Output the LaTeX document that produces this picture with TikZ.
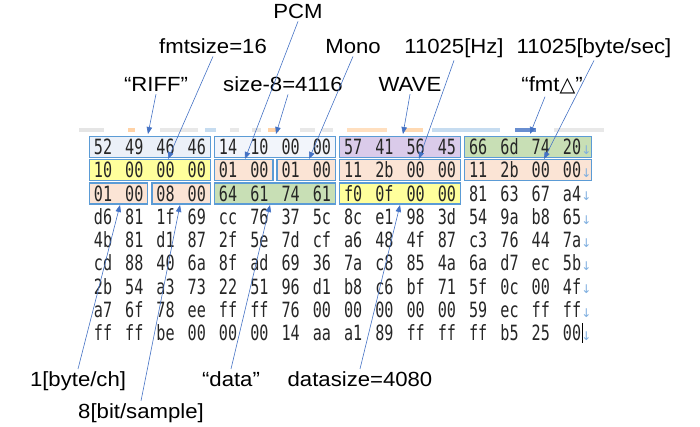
\documentclass[tikz,border=0pt]{standalone}
\usepackage{fontspec}
\setmainfont{Liberation Sans}[FakeStretch=1.08]
\newfontfamily\hexfont{DejaVu Sans Mono}[FakeStretch=0.72]
\newfontfamily\symfont{DejaVu Sans}
\usetikzlibrary{arrows.meta,calc}

\definecolor{boxline}{HTML}{5B9BD5}
\definecolor{arrowblue}{HTML}{4472C4}
\definecolor{fillgray}{HTML}{EBF0F8}
\definecolor{fillpale}{HTML}{F2F5FB}
\definecolor{fillpurple}{HTML}{DACBEA}
\definecolor{fillgreen}{HTML}{C8DFB5}
\definecolor{fillyellow}{HTML}{FFFF9C}
\definecolor{fillpeach}{HTML}{FBE4D5}
\definecolor{eolblue}{HTML}{7EAEDF}

\tikzset{
  hexframe/.style={draw=boxline,line width=1.4pt},
  hexbyte/.style={font=\hexfont\fontsize{21}{21}\selectfont,inner sep=0pt,anchor=base,text=black!85},
  eolmark/.style={font=\symfont\fontsize{12}{12}\selectfont,inner sep=0pt,text=eolblue},
  caption/.style={font=\fontsize{20.5}{20.5}\selectfont,inner sep=2pt,anchor=base},
  pointer/.style={draw=arrowblue,line width=0.6pt,-{Triangle[length=7pt,width=5.5pt]}}
}

% row, first column, last column, fill, extra width on the right
\newcommand{\bytegroup}[5]{%
  \draw[hexframe,fill=#4] ({103+31.27*#2-13.5},{147+23.25*#1-10.5})
    rectangle ({103+31.27*#3+13.5+#5},{147+23.25*#1+10.5});}

\begin{document}
\begin{tikzpicture}[x=1pt,y=-1pt]
  \useasboundingbox (0,0) rectangle (700,427);

  % toolbar remains
  \foreach \xa/\xb/\col in {79/104/gray!20,128/135/orange!35,160/198/gray!18,
    205/216/boxline!35,230/239/gray!18,252/261/gray!20,268/279/orange!35,
    300/315/gray!18,322/333/gray!18,347/387/orange!25,405/423/orange!30,
    432/500/boxline!35,515/536/arrowblue!80,554/604/gray!18}
    \fill[\col] (\xa,128) rectangle (\xb,132);

  \bytegroup{0}{0}{3}{fillgray}{0}
  \bytegroup{0}{4}{7}{fillpale}{0}
  \bytegroup{0}{8}{11}{fillpurple}{0}
  \bytegroup{0}{12}{15}{fillgreen}{6}
  \bytegroup{1}{0}{3}{fillyellow}{0}
  \bytegroup{1}{4}{5}{fillpeach}{0}
  \bytegroup{1}{6}{7}{fillpeach}{0}
  \bytegroup{1}{8}{11}{fillpeach}{0}
  \bytegroup{1}{12}{15}{fillpeach}{6}
  \bytegroup{2}{0}{1}{fillpeach}{0}
  \bytegroup{2}{2}{3}{fillpeach}{0}
  \bytegroup{2}{4}{7}{fillgreen}{0}
  \bytegroup{2}{8}{11}{fillyellow}{0}

  \foreach \row [count=\r from 0] in {
    {52,49,46,46,14,10,00,00,57,41,56,45,66,6d,74,20},
    {10,00,00,00,01,00,01,00,11,2b,00,00,11,2b,00,00},
    {01,00,08,00,64,61,74,61,f0,0f,00,00,81,63,67,a4},
    {d6,81,1f,69,cc,76,37,5c,8c,e1,98,3d,54,9a,b8,65},
    {4b,81,d1,87,2f,5e,7d,cf,a6,48,4f,87,c3,76,44,7a},
    {cd,88,40,6a,8f,ad,69,36,7a,c8,85,4a,6a,d7,ec,5b},
    {2b,54,a3,73,22,51,96,d1,b8,c6,bf,71,5f,0c,00,4f},
    {a7,6f,78,ee,ff,ff,76,00,00,00,00,00,59,ec,ff,ff},
    {ff,ff,be,00,00,00,14,aa,a1,89,ff,ff,ff,b5,25,00}} {
    \foreach \b [count=\c from 0] in \row
      \node[hexbyte] (b\r-\c) at ({103+31.27*\c},{154.6+23.25*\r}) {\b};
    \node[eolmark] (eol\r) at (586.5,{150+23.25*\r}) {↓};
  }
  \draw[line width=0.8pt] (582.5,323) -- (582.5,343);

  \node[caption] (pcm) at (298,19) {PCM};
  \node[caption] (fmtsize) at (213,54) {fmtsize=16};
  \node[caption] (mono) at (353,54) {Mono};
  \node[caption] (rate) at (454,54) {11025[Hz]};
  \node[caption] (byterate) at (594,54) {11025[byte/sec]};
  \node[caption] (riff) at (156,92) {“RIFF”};
  \node[caption] (size) at (283,92) {size-8=4116};
  \node[caption] (wave) at (410,92) {WAVE};
  \node[caption] (fmt) at (552,92) {“fmt{\symfont △}”};
  \node[caption] (align) at (78,386) {1[byte/ch]};
  \node[caption] (data) at (231,386) {“data”};
  \node[caption] (datasize) at (360,386) {datasize=4080};
  \node[caption] (bits) at (141,418) {8[bit/sample]};

  \coordinate (tRiff) at (148,134);
  \coordinate (tFmtsize) at (168,159);
  \coordinate (tPcm) at (245,159);
  \coordinate (tSize) at (276,134);
  \coordinate (tMono) at (309,159);
  \coordinate (tWave) at (403,134);
  \coordinate (tRate) at (419,159);
  \coordinate (tFmt) at (530,134);
  \coordinate (tByterate) at (544,159);
  \coordinate (tAlign) at (120,205);
  \coordinate (tBits) at (180,205);
  \coordinate (tData) at (270,205);
  \coordinate (tDatasize) at (400,205);

  \draw[pointer] (riff.south) -- (tRiff);
  \draw[pointer] (fmtsize.south) -- (tFmtsize);
  \draw[pointer] (pcm.south) -- (tPcm);
  \draw[pointer] ($(size.south)+(5,0)$) -- (tSize);
  \draw[pointer] (mono.south) -- (tMono);
  \draw[pointer] (wave.south) -- (tWave);
  \draw[pointer] (rate.south) -- (tRate);
  \draw[pointer] ($(fmt.south)+(-7,0)$) -- (tFmt);
  \draw[pointer] (byterate.south) -- (tByterate);
  \draw[pointer] (align.north) -- (tAlign);
  \draw[pointer] (bits.north) -- (tBits);
  \draw[pointer] (data.north) -- (tData);
  \draw[pointer] (datasize.north) -- (tDatasize);
\end{tikzpicture}
\end{document}
